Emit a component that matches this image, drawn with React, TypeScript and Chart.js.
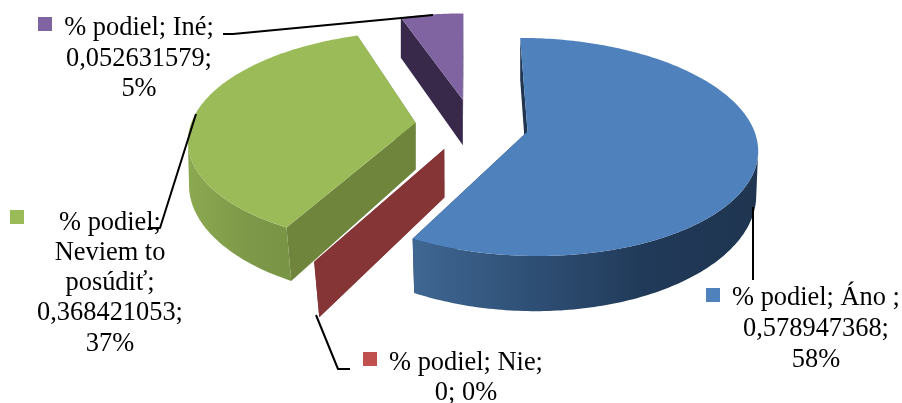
import React, { useEffect, useRef } from "react";
import { Chart, registerables } from "chart.js";

Chart.register(...registerables);

// Survey shares, in the order the slices run clockwise from twelve o'clock.
const categories = ["Áno ", "Nie", "Neviem to posúdiť", "Iné"];
const shares = [0.578947368, 0, 0.368421053, 0.052631579];
const percents = ["58%", "0%", "37%", "5%"];

const topColors = ["#4f81bd", "#c0504d", "#9bbb59", "#8064a2"];
const radialWallColors = ["#1f3550", "#853536", "#6f853c", "#38284a"];
const outerWallStops = [
  ["#3f6792", "#2f5076", "#213a59", "#1f3550"],
  ["#853536", "#853536", "#853536", "#853536"],
  ["#8ca850", "#84a04c", "#7c9848", "#789444"],
  ["#38284a", "#38284a", "#38284a", "#38284a"],
];

const shareText = (v: number) => String(v).replace(".", ",");

// Data labels are wrapped by hand, the way the chart breaks them.
const labelLines = [
  [`% podiel; ${categories[0]};`, `${shareText(shares[0])};`, percents[0]],
  [`% podiel; ${categories[1]};`, `${shareText(shares[1])}; ${percents[1]}`],
  ["% podiel;", "Neviem to", "posúdiť;", `${shareText(shares[2])};`, percents[2]],
  [`% podiel; ${categories[3]};`, `${shareText(shares[3])};`, percents[3]],
];

// Placement of each label block: text centre, line baselines, key square, leader polyline.
const labelLayout = [
  { cx: 816, baselines: [305, 336, 367], key: [706, 288], leader: [[753, 207], [753, 280]] },
  { cx: 466, baselines: [370, 400], key: [363, 352], leader: [[316, 315], [338, 369], [350, 369]] },
  { cx: 110, baselines: [230, 260, 290, 320, 351], key: [10, 210], leader: [[148, 228], [160, 228], [196, 114]] },
  { cx: 139, baselines: [35, 66, 96], key: [38, 17], leader: [[223, 34], [233, 34], [433, 15]] },
];

// Perspective of the tilted pie: plane scale, foreshortening, vanishing shift, extrusion height.
const PIE_RADIUS = 225;
const PLANE_TILT = 105;
const PERSPECTIVE = 0.14;
const VANISH_SHIFT = 4;
const DEPTH = 47;
const BOTTOM_SHRINK = 0.03;

type Pt = [number, number];

const pie3d = {
  id: "pie3d",
  beforeDatasetsDraw(chart: any) {
    const ctx: CanvasRenderingContext2D = chart.ctx;
    const arcs = chart.getDatasetMeta(0).data;

    const top = (cx: number, cy: number, X: number, Y: number): Pt => {
      const s = 1 / (1 + PERSPECTIVE * Y);
      return [cx - VANISH_SHIFT + (VANISH_SHIFT + PIE_RADIUS * X) * s, cy - PLANE_TILT * Y * s];
    };
    const bottom = (cx: number, cy: number, X: number, Y: number): Pt => {
      const s = 1 / (1 + PERSPECTIVE * Y);
      const [x, y] = top(cx, cy, X, Y);
      const vx = cx - VANISH_SHIFT;
      // The lower rim pulls inward only on the near half of the pie.
      const shrink = 1 - BOTTOM_SHRINK * Math.max(0, -Y);
      return [vx + (x - vx) * shrink, y + DEPTH * s];
    };
    const fillPath = (pts: Pt[], fill: string | CanvasGradient) => {
      ctx.beginPath();
      pts.forEach(([x, y], i) => (i ? ctx.lineTo(x, y) : ctx.moveTo(x, y)));
      ctx.closePath();
      ctx.fillStyle = fill;
      ctx.fill();
    };

    ctx.save();
    // Rear slices first so the nearer ones overlap them.
    [3, 2, 1, 0].forEach((i) => {
      const arc = arcs[i];
      const { x: cx, y: cy, startAngle, endAngle, outerRadius } = arc.getProps(
        ["x", "y", "startAngle", "endAngle", "outerRadius"],
        true
      );
      const mid = (startAngle + endAngle) / 2;
      const shift = arc.options.offset / outerRadius;
      const ox = Math.cos(mid) * shift;
      const oy = -Math.sin(mid) * shift;

      const steps = Math.max(1, Math.ceil((endAngle - startAngle) * 60));
      const rim: [number, number][] = [];
      for (let k = 0; k <= steps; k++) {
        const a = startAngle + ((endAngle - startAngle) * k) / steps;
        rim.push([ox + Math.cos(a), oy - Math.sin(a)]);
      }
      const rimTop = rim.map(([X, Y]) => top(cx, cy, X, Y));
      const rimBottom = rim.map(([X, Y]) => bottom(cx, cy, X, Y));
      const apexTop = top(cx, cy, ox, oy);
      const apexBottom = bottom(cx, cy, ox, oy);

      // Flat cut faces on either side of the slice.
      fillPath([apexTop, rimTop[0], rimBottom[0], apexBottom], radialWallColors[i]);
      fillPath([apexTop, rimTop[steps], rimBottom[steps], apexBottom], radialWallColors[i]);

      // Curved outer wall: only the rim nearer than the slice's widest point faces the viewer.
      const xs = rimTop.map(([x]) => x);
      const widestX = ox > 0 ? Math.max(...xs) : Math.min(...xs);
      const widestY = rimTop[xs.indexOf(widestX)][1];
      const near = rim.map((_, k) => k).filter((k) => rimTop[k][1] >= widestY);
      if (near.length > 1) {
        const nearXs = near.map((k) => rimTop[k][0]);
        const grad = ctx.createLinearGradient(Math.min(...nearXs), 0, Math.max(...nearXs), 0);
        outerWallStops[i].forEach((c, k) => grad.addColorStop(k / 3, c));
        const upper = near.map((k) => rimTop[k]);
        const lower = near.map((k) => rimBottom[k]).reverse();
        fillPath([...upper, ...lower], grad);
      }

      // Upper face.
      if (endAngle > startAngle) {
        fillPath([apexTop, ...rimTop], topColors[i]);
      }
    });
    ctx.restore();
    return false;
  },
  afterDraw(chart: any) {
    const ctx: CanvasRenderingContext2D = chart.ctx;
    ctx.save();
    labelLayout.forEach((layout, i) => {
      ctx.beginPath();
      layout.leader.forEach(([x, y], k) => (k ? ctx.lineTo(x, y) : ctx.moveTo(x, y)));
      ctx.strokeStyle = "#000000";
      ctx.lineWidth = 2;
      ctx.lineJoin = "round";
      ctx.stroke();

      ctx.fillStyle = topColors[i];
      ctx.fillRect(layout.key[0], layout.key[1], 14, 14);

      ctx.fillStyle = "#000000";
      ctx.font = '26.4px "Liberation Serif", serif';
      ctx.textAlign = "center";
      ctx.textBaseline = "alphabetic";
      labelLines[i].forEach((line, k) => ctx.fillText(line, layout.cx, layout.baselines[k]));
    });
    ctx.restore();
  },
};

export default function App() {
  const ref = useRef<HTMLCanvasElement | null>(null);
  useEffect(() => {
    if (!ref.current) return;
    const chart = new Chart(ref.current, {
      type: "pie",
      data: {
        labels: categories,
        datasets: [{ data: shares, backgroundColor: topColors, borderWidth: 0, offset: 28 }],
      },
      options: {
        responsive: false,
        animation: false,
        layout: { padding: { left: 42, bottom: 153 } },
        plugins: { legend: { display: false }, tooltip: { enabled: false } },
      },
      plugins: [pie3d],
    } as any);
    return () => chart.destroy();
  }, []);
  return (
    <canvas
      ref={ref}
      width={902}
      height={403}
      style={{ position: "fixed", left: 0, top: 0, width: 902, height: 403, display: "block", background: "#ffffff" }}
    />
  );
}
